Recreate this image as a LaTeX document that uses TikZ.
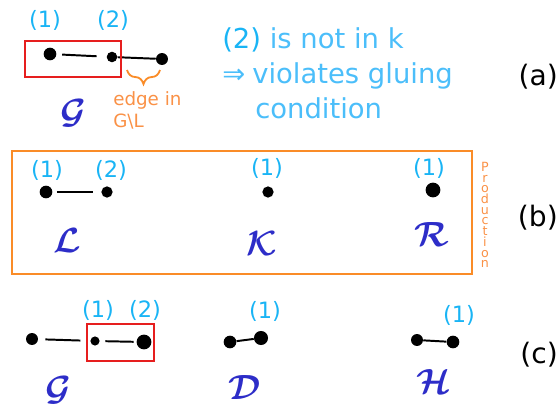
\documentclass[tikz,border=0pt]{standalone}
\usepackage{fontspec}
\setmainfont{DejaVu Sans}
\usepackage{amsmath,amssymb}
\usepackage{tikz}
\usetikzlibrary{decorations.pathreplacing}
\definecolor{LabelCyan}{RGB}{25,180,245}
\definecolor{NoteCyan}{RGB}{75,190,250}
\definecolor{InkBlue}{RGB}{45,45,200}
\definecolor{Tangerine}{RGB}{250,140,40}
\definecolor{NoteOrange}{RGB}{250,145,70}
\definecolor{FrameRed}{RGB}{230,30,30}

\begin{document}
\begin{tikzpicture}[
      x=0.025cm,y=-0.025cm,
      vDot/.style={circle,fill=black,inner sep=0pt,minimum size=#1},
      vDot/.default=8pt,
      eLine/.style={line width=1.4pt,color=black},
      idLbl/.style={font=\fontsize{16}{18}\selectfont,text=LabelCyan,inner sep=0pt},
      gName/.style={font=\fontsize{28}{30}\selectfont,text=InkBlue,inner sep=0pt},
      noteTxt/.style={anchor=base west,inner sep=0pt,font=\fontsize{19.5}{24}\selectfont,text=NoteCyan},
      orgTxt/.style={anchor=base west,inner sep=0pt,font=\fontsize{13}{15}\selectfont,text=NoteOrange},
      rowTag/.style={anchor=base east,inner sep=0pt,font=\fontsize{20}{24}\selectfont,text=black},
      redFrame/.style={draw=FrameRed,line width=1pt},
      prodFrame/.style={draw=Tangerine,line width=1.3pt}
    ]
    \useasboundingbox (0,0) rectangle (560,408);

    % Row (a): match of L in G
    \node(a1)[vDot=9pt] at (50,54) {};
    \node(a2)[vDot=7.5pt] at (112,57) {};
    \node(a3)[vDot=8.5pt] at (162,59) {};
    \node(a1lbl)[idLbl] at (45,20) {(1)};
    \node(a2lbl)[idLbl] at (113,20) {(2)};
    \node(aG)[gName] at (73,113) {$\boldsymbol{\mathcal{G}}$};
    \draw[eLine,shorten <=4pt,shorten >=7pt] (a1) -- (a2);
    \draw[eLine] (a2) -- (a3);
    \draw[redFrame] (25,41) rectangle (121,77);

    % Brace under the dangling edge
    \coordinate(br1) at (127,70);
    \coordinate(br2) at (160,70);
    \draw[Tangerine,line width=1.3pt,decorate,decoration={brace,amplitude=10pt,mirror}] (br1) -- (br2);
    \node(en1)[orgTxt] at (113,105) {edge in};
    \node(en2)[orgTxt] at (113,127) {G\textbackslash L};

    % Note on the right
    \node(cond1)[noteTxt] at (222,48) {{\color{LabelCyan}(2)} is not in k};
    \node(cond2)[noteTxt] at (222,83) {⇒\hspace{5pt}violates gluing};
    \node(cond3)[noteTxt] at (255,118) {condition};
    \node(tagA)[rowTag] at (558,85) {(a)};

    % Row (b): the production L <- K -> R
    \draw[prodFrame] (12,151) rectangle (472,274);
    \node(l1)[vDot=9pt] at (46,192) {};
    \node(l2)[vDot=8pt] at (107,192) {};
    \draw[eLine,shorten <=3pt,shorten >=6pt] (l1) -- (l2);
    \node(l1lbl)[idLbl] at (47,170) {(1)};
    \node(l2lbl)[idLbl] at (111,170) {(2)};
    \node(k1)[vDot=8pt] at (268,192) {};
    \node(k1lbl)[idLbl] at (267,168) {(1)};
    \node(r1)[vDot=10.5pt] at (433,190) {};
    \node(r1lbl)[idLbl] at (429,168) {(1)};
    \node(gL)[gName] at (67,240) {$\boldsymbol{\mathcal{L}}$};
    \node(gK)[gName] at (262,243) {$\boldsymbol{\mathcal{K}}$};
    \node(gR)[gName] at (432,234) {$\boldsymbol{\mathcal{R}}$};
    \node(prodTxt)[align=center,inner sep=0pt,font=\fontsize{9}{7.6}\selectfont,text=NoteOrange]
      at (485,215) {P\\r\\o\\d\\u\\c\\t\\i\\o\\n};
    \node(tagB)[rowTag] at (558,226) {(b)};

    % Row (c): G, D and H
    \node(c1)[vDot=8.5pt] at (32,339) {};
    \node(c2)[vDot=6.5pt] at (95,341) {};
    \node(c3)[vDot=10.5pt] at (144,342) {};
    \draw[eLine,shorten <=5pt,shorten >=7pt] (c1) -- (c2);
    \draw[eLine,shorten <=4pt,shorten >=2pt] (c2) -- (c3);
    \draw[redFrame] (87,324) rectangle (154,361);
    \node(c2lbl)[idLbl] at (98,310) {(1)};
    \node(c3lbl)[idLbl] at (145,310) {(2)};
    \node(cG)[gName] at (58,390) {$\boldsymbol{\mathcal{G}}$};

    \node(d1)[vDot=9pt] at (230,342) {};
    \node(d2)[vDot=10pt] at (261,338) {};
    \draw[eLine] (d1) -- (d2);
    \node(d2lbl)[idLbl] at (265,311) {(1)};
    \node(cD)[gName] at (245,387) {$\boldsymbol{\mathcal{D}}$};

    \node(h1)[vDot=8.5pt] at (417,340) {};
    \node(h2)[vDot=9pt] at (453,342) {};
    \draw[eLine] (h1) -- (h2);
    \node(h2lbl)[idLbl] at (459,315) {(1)};
    \node(cH)[gName] at (434,381) {$\boldsymbol{\mathcal{H}}$};
    \node(tagC)[rowTag] at (558,363) {(c)};
  \end{tikzpicture}
\end{document}
